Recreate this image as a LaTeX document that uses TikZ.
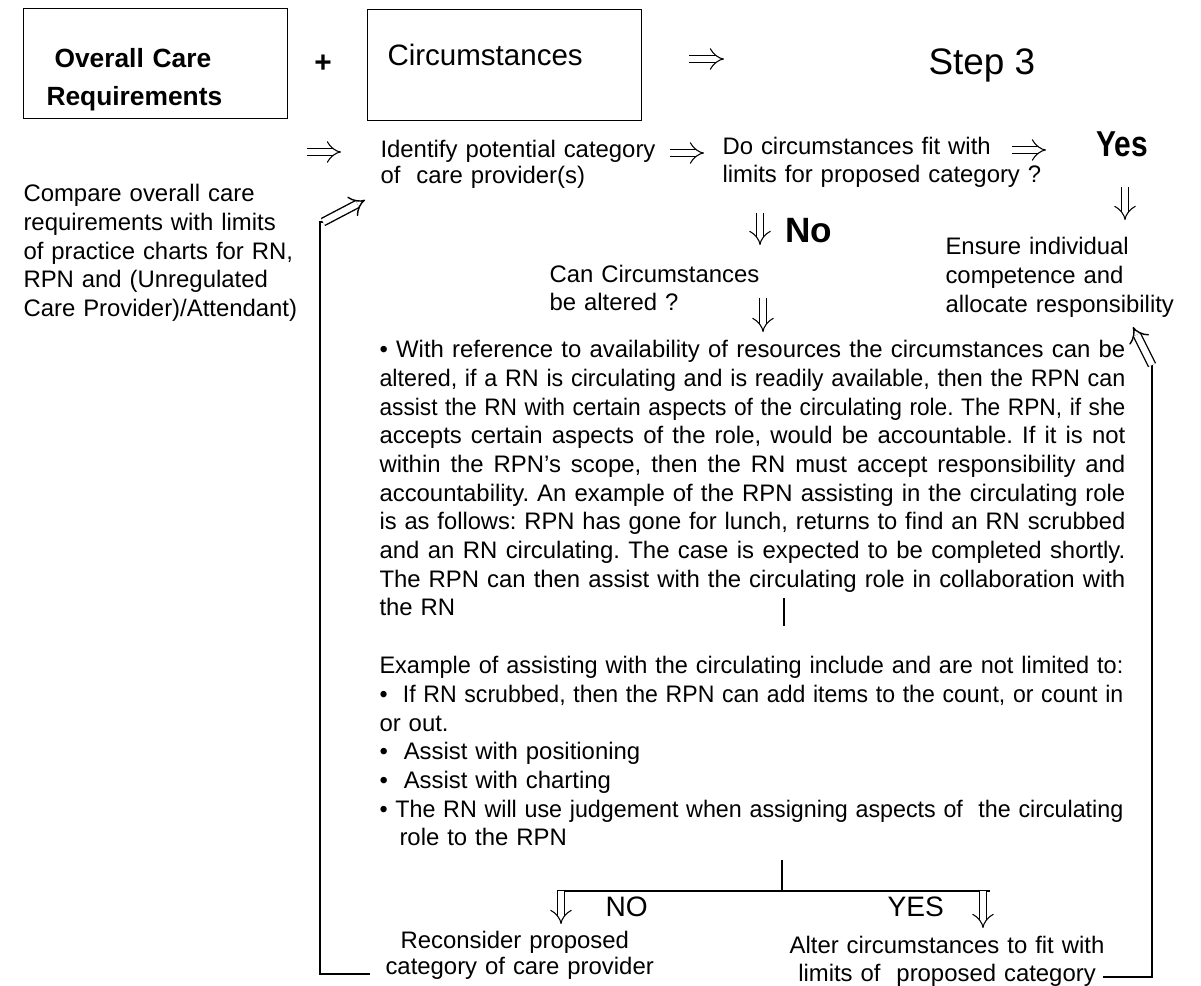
\documentclass[tikz,border=0pt]{standalone}
\usepackage{fontspec}
\setmainfont{Liberation Sans}
\usepackage{graphicx}
\usetikzlibrary{arrows.meta}
\frenchspacing

% one justified line of a paragraph (squeezed when it is too long)
\newcommand{\jline}[1]{\leavevmode\sbox0{#1}%
  \ifdim\wd0>\linewidth\resizebox{\linewidth}{\height}{#1}%
  \else\hbox to \linewidth{\spaceskip=0.278em plus 1em\relax#1}\fi}

\begin{document}
\begin{tikzpicture}[x=0.02cm,y=-0.02cm,line width=0.6pt,
  txt/.style={inner sep=0pt,anchor=base west,align=left,
    font=\fontsize{13.6}{16.3}\selectfont},
  box/.style={draw,line width=0.6pt,inner ysep=0pt,align=left,anchor=north west},
  imp/.style={double,double distance=3.8pt,line width=0.6pt,-{Implies}},
  loopline/.style={line width=1.1pt},
  loopimp/.style={double,double distance=3.6pt,line width=0.8pt,-{Implies}}]
  \useasboundingbox (0,0) rectangle (1201,986);
  % top row
  \node[box,text width=4.36cm,inner xsep=0.46cm,text height=1.18cm,text depth=1.02cm,
    font=\bfseries\fontsize{15}{21.6}\selectfont] (ocr) at (23,8)
    {\hspace*{0.16cm}Overall Care\\Requirements};
  \node[inner sep=0pt,anchor=base,font=\bfseries\fontsize{17}{20}\selectfont] (plus) at (323,73) {+};
  \node[box,text width=4.68cm,inner xsep=0.4cm,text height=1.12cm,text depth=1.1cm,
    font=\fontsize{16.8}{20}\selectfont] (circ) at (367,9) {Circumstances};
  \node[txt,font=\fontsize{21}{24}\selectfont] (step) at (928,75) {Step 3};
  % second row
  \node[txt,text width=6cm,font=\fontsize{13.6}{14.4}\selectfont] (ident) at (380,158)
    {Identify potential category\\of\ \ care provider(s)};
  \node[txt,text width=6.5cm,font=\fontsize{13.6}{15.4}\selectfont] (fit) at (722,155)
    {Do circumstances fit with\\limits for proposed category ?};
  \node[txt,font=\bfseries\fontsize{20.5}{24}\selectfont] (yes) at (1096,157) {\scalebox{0.83}[1]{Yes}};
  \node[txt,text width=6cm] (cmp) at (23,202)
    {Compare overall care\\requirements with limits\\of practice charts for RN,\\RPN and (Unregulated\\Care Provider)/Attendant)};
  \node[txt,font=\bfseries\fontsize{20}{24}\selectfont] (no) at (785,243) {No};
  \node[txt,text width=4.8cm,font=\fontsize{13.6}{16.5}\selectfont] (ens) at (945,255)
    {Ensure individual\\competence and\\allocate responsibility};
  \node[txt,text width=4.5cm,font=\fontsize{13.6}{15.4}\selectfont] (can) at (549,283)
    {Can Circumstances\\be altered ?};
  % the two paragraphs
  \node[txt,text width=14.92cm] (alt) at (379,358)
    {\jline{• With reference to availability of resources the circumstances can be}\\
     \jline{altered, if a RN is circulating and is readily available, then the RPN can}\\
     \jline{assist the RN with certain aspects of the circulating role. The RPN, if she}\\
     \jline{accepts certain aspects of the role, would be accountable. If it is not}\\
     \jline{within the RPN's scope, then the RN must accept responsibility and}\\
     \jline{accountability. An example of the RPN assisting in the circulating role}\\
     \jline{is as follows: RPN has gone for lunch, returns to find an RN scrubbed}\\
     \jline{and an RN circulating. The case is expected to be completed shortly.}\\
     \jline{The RPN can then assist with the circulating role in collaboration with}\\
     the RN};
  \node[txt,text width=14.88cm] (ex) at (379,674)
    {\jline{Example of assisting with the circulating include and are not limited to:}\\
     \jline{•\ \ If RN scrubbed, then the RPN can add items to the count, or count in}\\
     or out.\\
     •\ \ Assist with positioning\\
     •\ \ Assist with charting\\
     \jline{• The RN will use judgement when assigning aspects of\ \ the circulating}\\
     \hspace*{0.4cm}role to the RPN};
  % bottom row
  \node[txt,font=\fontsize{16}{19}\selectfont] (nolab) at (605,916) {NO};
  \node[txt,font=\fontsize{16}{19}\selectfont] (yeslab) at (887,916) {YES};
  \node[txt,text width=6cm,font=\fontsize{13.6}{14.8}\selectfont] (recon) at (385,948)
    {\hspace*{0.3cm}Reconsider proposed\\category of care provider};
  \node[txt,anchor=base,text width=7cm,align=center,font=\fontsize{13.6}{16}\selectfont] (alter) at (947,953)
    {Alter circumstances to fit with\\limits of\ \ proposed category};
  % double arrows
  \draw[imp] ([shift={(47,-6)}]circ.east) -- ([shift={(82,-6)}]circ.east);
  \draw[imp] ([shift={(-73,-6)}]ident.base west) -- ([shift={(-39,-6)}]ident.base west);
  \draw[imp] ([shift={(-52,-2)}]fit.base west) -- ([shift={(-18,-2)}]fit.base west);
  \draw[imp] ([shift={(-84,-7)}]yes.base west) -- ([shift={(-50,-7)}]yes.base west);
  \draw[imp] ([shift={(29,30)}]yes.base west) -- ([shift={(29,63)}]yes.base west);
  \draw[imp] ([shift={(-25,-30)}]no.base west) -- ([shift={(-25,2)}]no.base west);
  \draw[imp] ([shift={(214,15)}]can.base west) -- ([shift={(214,49)}]can.base west);
  % fork under the paragraphs
  \draw[loopline] ([shift={(405,240)}]alt.base west) -- ([shift={(405,268)}]alt.base west);
  \coordinate (fork) at (782,891);
  \draw[line width=1.2pt] (fork) -- ++(0,-31);
  \draw[line width=1.2pt] (557,891) -- (990,891);
  \draw[imp] (561,891) -- (561,924);
  \draw[imp] (983,891) -- (983,928);
  % return loops
  \draw[loopline] ([shift={(-15,26)}]recon.base west) -- (320,974) -- (320,222) -- (323,222);
  \draw[loopimp] (323,222) -- ([shift={(-15,42)}]ident.base west);
  \draw[loopline] ([shift={(156,24)}]alter.base) -- (1152,977) -- (1152,365);
  \draw[loopimp] (1152,365) -- ([shift={(188,72)}]ens.base west);
\end{tikzpicture}
\end{document}
